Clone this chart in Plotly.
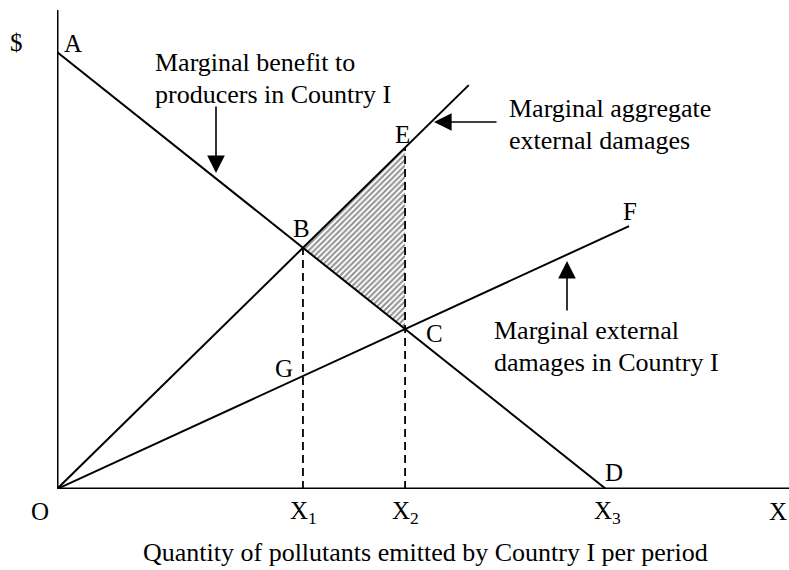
import plotly.graph_objects as go

# ---- data (conceptual units) ----
a_intercept = 10.0          # A: MB intercept on $ axis
x1 = 4.48                   # X1 (point B)
x2 = 6.34                   # X2 (point C / E)
x3 = 10.0                   # X3 (point D)
agg_end_x = 7.5             # top end of marginal aggregate damages line
med_end_x = 10.42           # F: end of marginal external damages line
x_max = 13.333
y_max = 10.961

mb_x = [0.0, x3]
mb_y = [a_intercept, 0.0]
b_y = a_intercept * (1 - x1 / x3)
c_y = a_intercept * (1 - x2 / x3)
agg_slope = b_y / x1
med_slope = c_y / x2
agg_x = [0.0, agg_end_x]
agg_y = [0.0, agg_slope * agg_end_x]
med_x = [0.0, med_end_x]
med_y = [0.0, med_slope * med_end_x]
e_y = agg_slope * x2

W, H = 789, 570
L, T, R, B = 57, 10, 0, 81
PW, PH = W - L - R, H - T - B

def px(xp):
    return (xp - L) / PW

def py(yp):
    return (H - B - yp) / PH

FONT = "Liberation Serif, Times New Roman, serif"
BLACK = "#000000"
FS = 25
FS_TXT = 26

fig = go.Figure()

# hatched triangle B-E-C
fig.add_trace(go.Scatter(
    x=[x1, x2, x2, x1], y=[b_y, e_y, c_y, b_y], mode="lines",
    fill="toself", line=dict(width=0, color="rgba(0,0,0,0)"),
    fillcolor="white",
    fillpattern=dict(shape="/", fgcolor="#222222", bgcolor="white", size=4, solidity=0.5),
    hoverinfo="skip", showlegend=False))

# dashed verticals
for xv, yv in [(x1, b_y), (x2, e_y)]:
    fig.add_trace(go.Scatter(x=[xv, xv], y=[0, yv], mode="lines",
                             line=dict(color=BLACK, width=1.8, dash="8px,5px"),
                             showlegend=False, hoverinfo="skip"))

# curves
for xs, ys in [(mb_x, mb_y), (agg_x, agg_y), (med_x, med_y)]:
    fig.add_trace(go.Scatter(x=xs, y=ys, mode="lines",
                             line=dict(color=BLACK, width=2.0), showlegend=False))

# axes
fig.add_trace(go.Scatter(x=[0, 0], y=[0, y_max], mode="lines",
                         line=dict(color=BLACK, width=3), showlegend=False, cliponaxis=False))
fig.add_trace(go.Scatter(x=[0, x_max], y=[0, 0], mode="lines",
                         line=dict(color=BLACK, width=3), showlegend=False, cliponaxis=False))

ann = []

def label(text, xp, yp, size=FS, xanchor="center"):
    ann.append(dict(text=text, x=px(xp), y=py(yp), xref="paper", yref="paper",
                    xanchor=xanchor, yanchor="middle", showarrow=False,
                    font=dict(family=FONT, size=size, color=BLACK)))

label("$", 16, 42)
label("A", 73, 43)
label("B", 301, 228)
label("E", 402, 134)
label("C", 434, 334)
label("G", 284, 368)
label("F", 630, 211)
label("D", 614, 472)
label("O", 40, 511)
label("X<sub>1</sub>", 303, 512)
label("X<sub>2</sub>", 405, 512)
label("X<sub>3</sub>", 607, 512)
label("X", 778, 511)

label("Marginal benefit to", 153, 62, size=FS_TXT, xanchor="left")
label("producers in Country I", 153, 94, size=FS_TXT, xanchor="left")
label("Marginal aggregate", 507, 108, size=FS_TXT, xanchor="left")
label("external damages", 507, 140, size=FS_TXT, xanchor="left")
label("Marginal external", 492, 330, size=FS_TXT, xanchor="left")
label("damages in Country I", 492, 362, size=FS_TXT, xanchor="left")
label("Quantity of pollutants emitted by Country I per period", 426, 552, size=FS_TXT)

def arrow(tx, ty, axp, ayp):
    ann.append(dict(text="", x=px(tx), y=py(ty), xref="paper", yref="paper",
                    ax=axp, ay=ayp, showarrow=True, arrowhead=2, arrowsize=2.2,
                    arrowwidth=1.6, arrowcolor=BLACK))

arrow(216, 173, 0, -68)
arrow(434, 122, 64, 0)
arrow(567, 261, 0, 51)

fig.update_layout(
    width=W, height=H,
    margin=dict(l=L, r=R, t=T, b=B),
    paper_bgcolor="white", plot_bgcolor="white",
    xaxis=dict(range=[0, x_max], visible=False, fixedrange=True),
    yaxis=dict(range=[0, y_max], visible=False, fixedrange=True),
    annotations=ann,
    showlegend=False,
)

fig.write_html("out.html",
               config={"displayModeBar": False, "staticPlot": True},
               post_script="document.body.style.margin='0';document.body.style.padding='0';")
